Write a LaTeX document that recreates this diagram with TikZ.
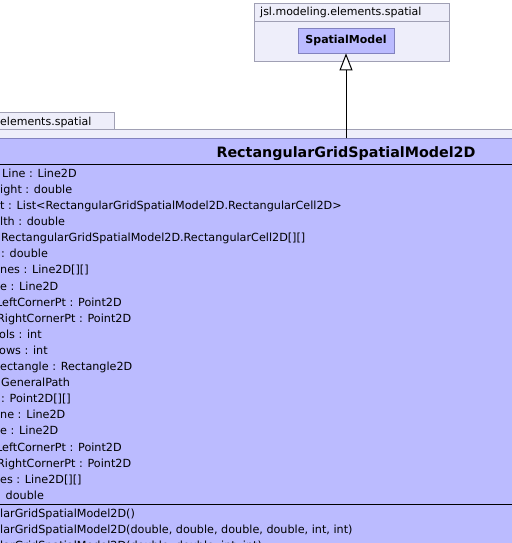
\documentclass[tikz,border=0pt]{standalone}
\usepackage{fontspec}
\setmainfont{DejaVu Sans}
\usetikzlibrary{arrows.meta}
\definecolor{clsfill}{RGB}{187,187,255}
\definecolor{pkgfill}{RGB}{238,238,250}
\definecolor{pkgline}{RGB}{160,160,180}
\definecolor{clsline}{RGB}{130,130,190}
\tikzset{
  pkgbox/.style={draw=pkgline, fill=pkgfill, line width=0.8pt, inner sep=0pt},
  clsbox/.style={draw=clsline, fill=clsfill, line width=0.8pt, inner sep=0pt},
  member/.style={anchor=base west, inner sep=0pt, font=\fontsize{11.2}{13}\selectfont},
  pkgname/.style={anchor=base west, inner sep=0pt, font=\fontsize{11}{13}\selectfont},
  clsname/.style={anchor=base, inner sep=0pt, font=\bfseries\fontsize{14.3}{17}\selectfont},
  gen/.style={line width=1pt, -{Triangle[length=17pt, width=13pt, fill=white, line width=1pt]}}
}
\begin{document}
\begin{tikzpicture}[x=1pt,y=-1pt]
\useasboundingbox (0,0) rectangle (511,543);
\fill[white] (0,0) rectangle (511,543);
% top package
\draw[pkgbox] (254.5,3.5) rectangle (449.5,61.5);
\draw[pkgline, line width=0.8pt] (254.5,21) -- (449.5,21);
\node[pkgname] (toppkgname) at (260,16) {jsl.modeling.elements.spatial};
\node[clsbox, minimum width=96pt, minimum height=25pt, font=\bfseries\fontsize{11}{13}\selectfont] (sm) at (346,40.5) {SpatialModel};
% bottom package
\draw[pkgbox] (-5,112.5) rectangle (114.5,129.5);
\draw[pkgbox] (-5,129.5) rectangle (530,560);
\node[pkgname] (botpkgname) at (0,125) {elements.spatial};
% main class
\node[clsbox, minimum width=720pt, minimum height=422pt, anchor=north] (rgsm) at (346,138) {};
\node[clsname] (rgsmname) at (346,157) {RectangularGridSpatialModel2D};
\draw[black, line width=1pt] (-5,164) -- (530,164);
\draw[black, line width=1pt] (-5,504) -- (530,504);
% attributes
\foreach \t/\dx [count=\i from 0] in {
  {Line : Line2D}/2,
  {ight : double}/0,
  {t : List<RectangularGridSpatialModel2D.RectangularCell2D>}/0,
  {lth : double}/0,
  {RectangularGridSpatialModel2D.RectangularCell2D[][]}/1,
  {: double}/1,
  {nes : Line2D[][]}/0,
  {e : Line2D}/0,
  {LeftCornerPt : Point2D}/-4,
  {RightCornerPt : Point2D}/-3,
  {ols : int}/-1,
  {ows : int}/-1,
  {ectangle : Rectangle2D}/0,
  {GeneralPath}/1,
  {: Point2D[][]}/1,
  {ne : Line2D}/0,
  {e : Line2D}/0,
  {LeftCornerPt : Point2D}/-4,
  {RightCornerPt : Point2D}/-3,
  {es : Line2D[][]}/0,
  {: double}/-3}
  \node[member] (attr\i) at (\dx,177.3+16.1*\i) {\t};
% methods
\node[member] (op0) at (0,517) {larGridSpatialModel2D()};
\node[member] (op1) at (0,533) {larGridSpatialModel2D(double, double, double, double, int, int)};
\node[member] (op2) at (0,549) {larGridSpatialModel2D(double, double, int, int)};
% generalization
\draw[gen] (rgsm.north) -- (sm.south);
\end{tikzpicture}
\end{document}
